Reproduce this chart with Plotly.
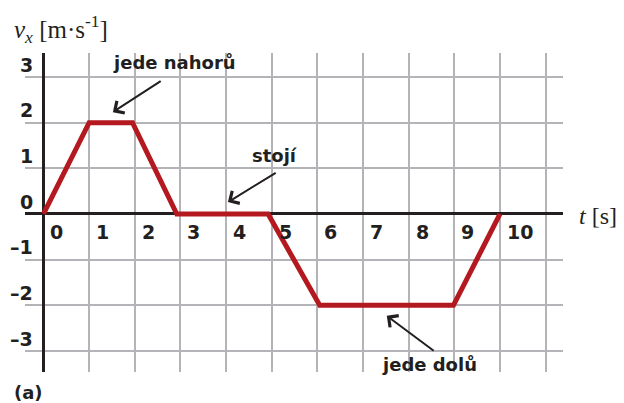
"""
v_x(t) graf - jede nahoru, stoji, jede dolu
"""

import plotly.graph_objects as go

# data
t_vals = [0, 1, 1.95, 2.92, 4.92, 6.05, 8.98, 10]
v_vals = [0, 2, 2, 0, 0, -2, -2, 0]

x_ticks = [0, 1, 2, 3, 4, 5, 6, 7, 8, 9, 10]
x_tick_text = ["0", "1", "2", "3", "4", "5", "6", "7", "8", "9", "10"]
y_ticks = [3, 2, 1, 0, -1, -2, -3]
y_tick_text = ["3", "2", "1", "0", "–1", "–2", "–3"]

notes = ["jede nahorů", "stojí", "jede dolů"]

DARK = "#231f20"
GRID = "#b4b4b8"
RED = "#b3191f"
LABEL_FONT = dict(family="DejaVu Sans", size=19, color=DARK, weight="bold")
NOTE_FONT = dict(family="DejaVu Sans", size=18, color=DARK, weight="bold")

fig = go.Figure()

fig.add_trace(go.Scatter(
    x=t_vals,
    y=v_vals,
    mode="lines",
    line=dict(color=RED, width=5),
    hoverinfo="skip",
    showlegend=False,
))

annotations = []

# popisky osy x (vpravo od mrizky, pod osou)
for t, txt in zip(x_ticks, x_tick_text):
    annotations.append(dict(
        x=t, y=-0.39, xref="x", yref="y", text=txt, showarrow=False,
        xanchor="left", yanchor="middle", xshift=5, font=LABEL_FONT,
    ))

# popisky osy y (nad mrizkou, vlevo od osy)
for v, txt in zip(y_ticks, y_tick_text):
    annotations.append(dict(
        x=-0.19, y=v + 0.27, xref="x", yref="y", text=txt, showarrow=False,
        xanchor="right", yanchor="middle", font=LABEL_FONT,
    ))

# texty a sipky
note_pos = [(2.86, 3.31), (5.07, 1.29), (8.45, -3.29)]
arrow_pos = [((1.52, 2.23), (2.6, 2.93)),
             ((4.04, 0.26), (5.12, 0.92)),
             ((7.52, -2.23), (8.58, -3.02))]
for txt, (nx, ny), ((hx, hy), (tx, ty)) in zip(notes, note_pos, arrow_pos):
    annotations.append(dict(
        x=nx, y=ny, xref="x", yref="y", text=txt, showarrow=False,
        xanchor="center", yanchor="middle", font=NOTE_FONT,
    ))
    annotations.append(dict(
        x=hx, y=hy, ax=tx, ay=ty, xref="x", yref="y", axref="x", ayref="y",
        text="", showarrow=True, arrowhead=4, arrowsize=1.4, arrowwidth=2,
        arrowcolor=DARK, standoff=0, startstandoff=0,
    ))

# nazvy os (mimo rozsah os -> souradnice paper)
annotations.append(dict(
    x=-0.024, y=1.075, xref="paper", yref="paper", showarrow=False,
    text="<i>v</i><sub><i>x</i></sub>\u00a0[m·s<sup>-1</sup>]",
    xanchor="left", yanchor="middle",
    font=dict(family="Liberation Serif", size=25, color=DARK),
))
annotations.append(dict(
    x=1.026, y=0.49, xref="paper", yref="paper", showarrow=False,
    text="<i>t</i> [s]", xanchor="left", yanchor="middle",
    font=dict(family="Liberation Serif", size=24, color=DARK),
))
annotations.append(dict(
    x=-0.024, y=-0.063, xref="paper", yref="paper", showarrow=False,
    text="(a)", xanchor="left", yanchor="middle",
    font=dict(family="DejaVu Sans", size=18, color=DARK, weight="bold"),
))

fig.update_layout(
    width=616,
    height=395,
    autosize=False,
    margin=dict(l=17, r=61, t=45, b=31),
    plot_bgcolor="white",
    paper_bgcolor="white",
    showlegend=False,
    annotations=annotations,
    xaxis=dict(
        range=[-0.405, 11.38], tick0=0, dtick=1, showticklabels=False,
        showgrid=True, gridcolor=GRID, gridwidth=2,
        zeroline=True, zerolinecolor=DARK, zerolinewidth=3,
        showline=False, ticks="", fixedrange=True,
    ),
    yaxis=dict(
        range=[-3.46, 3.525], tick0=0, dtick=1, showticklabels=False,
        showgrid=True, gridcolor=GRID, gridwidth=2,
        zeroline=True, zerolinecolor=DARK, zerolinewidth=3,
        showline=False, ticks="", fixedrange=True,
    ),
)

fig.write_html("out.html")
